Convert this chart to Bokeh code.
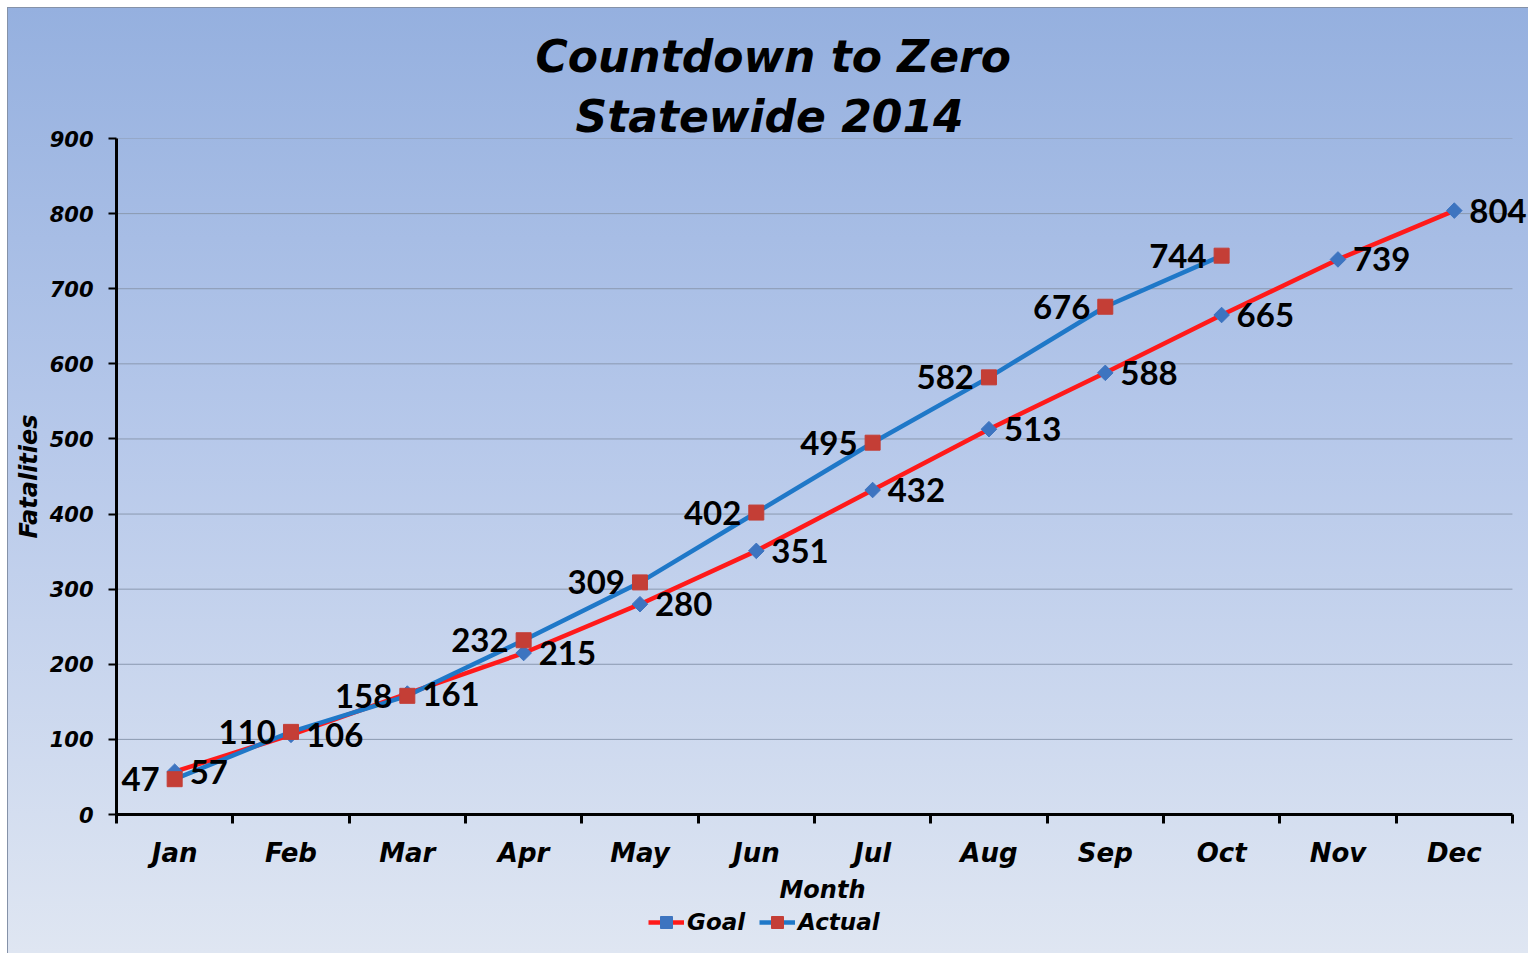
from bokeh.plotting import figure
from bokeh.layouts import column
from bokeh.models import (ColumnDataSource, Range1d, FixedTicker, Legend, LegendItem,
                          LabelSet, Title)
from bokeh.core.properties import value
from bokeh.embed import file_html
from bokeh.resources import INLINE

# ---- data ----
months = ["Jan", "Feb", "Mar", "Apr", "May", "Jun", "Jul", "Aug", "Sep", "Oct", "Nov", "Dec"]
goal = [57, 106, 161, 215, 280, 351, 432, 513, 588, 665, 739, 804]
actual = [47, 110, 158, 232, 309, 402, 495, 582, 676, 744]
y_ticks = [0, 100, 200, 300, 400, 500, 600, 700, 800, 900]
series_names = ["Goal", "Actual"]

title_line1 = "Countdown to Zero"
title_line2 = "Statewide 2014"

# month index positions (1..12)
month_pos = list(range(1, len(months) + 1))
x_lo = month_pos[0] - 0.5
x_hi = month_pos[-1] + 0.5

AXIS_FONT = "DejaVu Sans"
LABEL_FONT = "Lato"
GOAL_LINE = "#ff1a1a"
GOAL_MARK = "#3d74c0"
ACT_LINE = "#1f78c8"
ACT_MARK = "#c43e36"

p = figure(width=1521, height=900, output_backend="svg", toolbar_location=None,
           x_range=Range1d(x_lo, x_hi + 0.138), y_range=Range1d(0, 900),
           min_border_left=109, min_border_right=0, min_border_top=131,
           min_border_bottom=93)

p.border_fill_color = None
p.background_fill_color = None
p.outline_line_color = None

# grid lines drawn only across the axis span
p.xgrid.visible = False
p.ygrid.visible = False
p.segment(x0=[x_lo] * len(y_ticks), x1=[x_hi] * len(y_ticks), y0=y_ticks, y1=y_ticks,
          line_color="#8b99b0", line_width=1)

# x axis: labels at month centres, ticks at boundaries (minor)
xa = p.xaxis[0]
xa.bounds = (x_lo, x_hi)
xa.ticker = FixedTicker(ticks=month_pos,
                        minor_ticks=[m - 0.5 for m in month_pos] + [x_hi])
xa.major_label_overrides = {m: name for m, name in zip(month_pos, months)}
xa.major_tick_line_color = None
xa.major_tick_out = 8
xa.major_tick_in = 0
xa.minor_tick_line_color = "black"
xa.minor_tick_line_width = 3
xa.minor_tick_out = 9
xa.minor_tick_in = 0
xa.axis_line_color = "black"
xa.axis_line_width = 3
xa.major_label_text_font = AXIS_FONT
xa.major_label_text_font_style = "bold italic"
xa.major_label_text_font_size = "26px"
xa.major_label_text_color = "black"
xa.major_label_standoff = 14
xa.axis_label = "Month"
xa.axis_label_text_font = AXIS_FONT
xa.axis_label_text_font_style = "bold italic"
xa.axis_label_text_font_size = "24px"
xa.axis_label_text_color = "black"
xa.axis_label_standoff = 5

# y axis
ya = p.yaxis[0]
ya.ticker = FixedTicker(ticks=y_ticks)
ya.axis_line_color = "black"
ya.axis_line_width = 3
ya.major_tick_line_color = "black"
ya.major_tick_line_width = 2
ya.major_tick_out = 8
ya.major_tick_in = 0
ya.minor_tick_line_color = None
ya.major_label_text_font = AXIS_FONT
ya.major_label_text_font_style = "bold italic"
ya.major_label_text_font_size = "21px"
ya.major_label_text_color = "black"
ya.major_label_standoff = 15
ya.axis_label = "Fatalities"
ya.axis_label_text_font = AXIS_FONT
ya.axis_label_text_font_style = "bold italic"
ya.axis_label_text_font_size = "24px"
ya.axis_label_text_color = "black"
ya.axis_label_standoff = 4

# title (two lines)
t2 = Title(text=title_line2, align="left", offset=459, text_font=AXIS_FONT,
           text_font_style="bold italic", text_font_size="44px", text_color="black",
           standoff=-6)
t1 = Title(text=title_line1, align="left", offset=419, text_font=AXIS_FONT,
           text_font_style="bold italic", text_font_size="44px", text_color="black",
           standoff=19)
p.add_layout(t2, "above")
p.add_layout(t1, "above")

# series
src_goal = ColumnDataSource(dict(x=month_pos, y=goal, label=[str(v) for v in goal]))
src_act = ColumnDataSource(dict(x=month_pos[:len(actual)], y=actual,
                                label=[str(v) for v in actual]))

p.line("x", "y", source=src_goal, line_color=GOAL_LINE, line_width=4.5)
p.line("x", "y", source=src_act, line_color=ACT_LINE, line_width=4.5)
p.scatter("x", "y", source=src_goal, marker="square", angle=0.785398, size=11,
          fill_color=GOAL_MARK, line_color=GOAL_MARK)
p.scatter("x", "y", source=src_act, marker="square", size=15,
          fill_color=ACT_MARK, line_color=ACT_MARK)

g_labels = LabelSet(x="x", y="y", text="label", source=src_goal, x_offset=15,
                    text_align="left", text_baseline="middle",
                    text_font=value(LABEL_FONT), text_font_style="bold",
                    text_font_size="33px", text_color="black")
a_labels = LabelSet(x="x", y="y", text="label", source=src_act, x_offset=-15,
                    text_align="right", text_baseline="middle",
                    text_font=value(LABEL_FONT), text_font_style="bold",
                    text_font_size="33px", text_color="black")
p.add_layout(g_labels)
p.add_layout(a_labels)

# ---- legend strip (second figure; series sit outside its visible range) ----
pl = figure(width=1521, height=46, output_backend="svg", toolbar_location=None,
            x_range=Range1d(-20, -19), y_range=Range1d(-20, -19),
            x_axis_location=None, y_axis_location=None,
            min_border_left=0, min_border_right=0, min_border_top=0, min_border_bottom=0)
pl.border_fill_color = None
pl.background_fill_color = None
pl.outline_line_color = None
pl.grid.visible = False

lg_line = pl.line("x", "y", source=src_goal, line_color=GOAL_LINE, line_width=4.5)
lg_mark = pl.scatter("x", "y", source=src_goal, marker="square", angle=0.785398, size=11,
                     fill_color=GOAL_MARK, line_color=GOAL_MARK)
la_line = pl.line("x", "y", source=src_act, line_color=ACT_LINE, line_width=4.5)
la_mark = pl.scatter("x", "y", source=src_act, marker="square", size=15,
                     fill_color=ACT_MARK, line_color=ACT_MARK)

legend = Legend(items=[LegendItem(label=series_names[0], renderers=[lg_line, lg_mark]),
                       LegendItem(label=series_names[1], renderers=[la_line, la_mark])],
                orientation="horizontal", location=(532, 16),
                background_fill_alpha=0, border_line_color=None,
                label_text_font=AXIS_FONT, label_text_font_style="bold italic",
                label_text_font_size="23px", label_text_color="black",
                glyph_width=36, glyph_height=30, label_standoff=3, spacing=14,
                padding=0, margin=0)
pl.add_layout(legend)

root = column(p, pl, spacing=0)
root.styles = {
    "margin-left": "7px",
    "margin-top": "7px",
    "background": "linear-gradient(to bottom, #95b0df 0%, #b6c8ea 45%, #dfe6f2 100%)",
    "box-shadow": "inset 1px 1px 0 #8592a8",
}

open("out.html", "w").write(file_html(root, INLINE))
